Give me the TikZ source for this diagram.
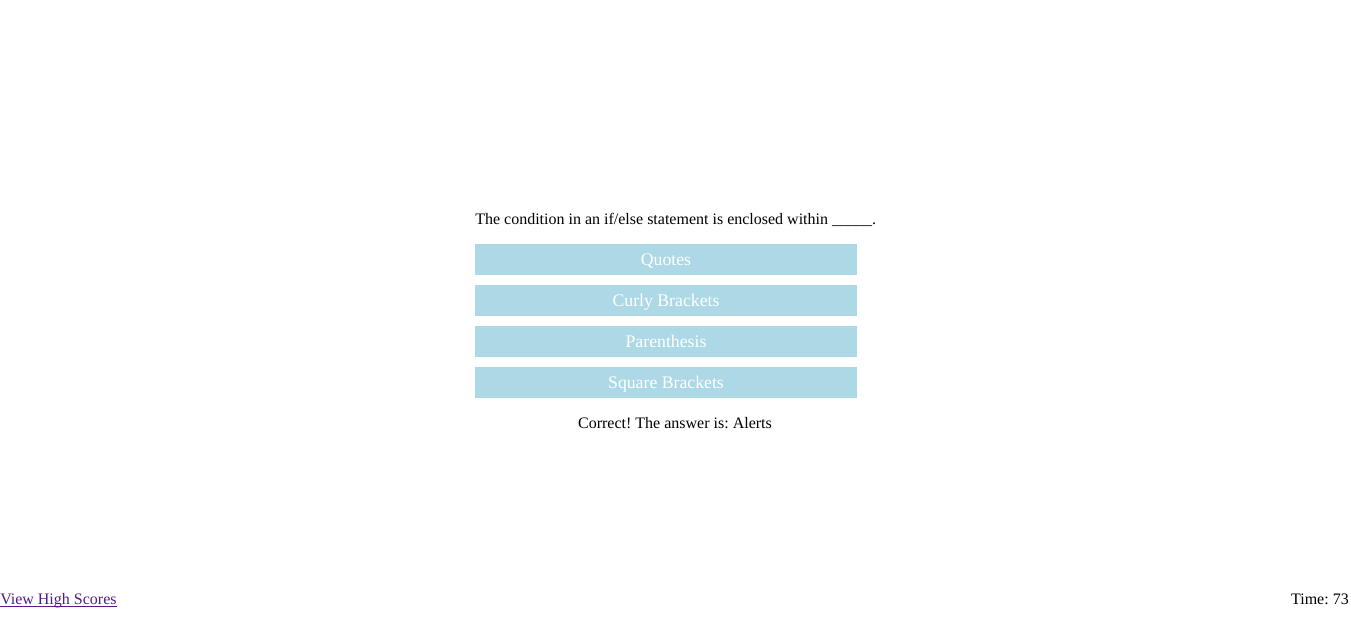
\documentclass[tikz,border=0pt]{standalone}
\usepackage{fontspec}
\setmainfont{Liberation Serif}
\frenchspacing
\definecolor{btnblue}{HTML}{ADD8E6}
\definecolor{linkpurple}{HTML}{551A8B}
\begin{document}
\begin{tikzpicture}[x=0.75pt,y=-0.75pt,
  btn/.style={fill=btnblue,draw=none,minimum width=382*0.75pt,minimum height=31*0.75pt,inner sep=0pt,
    text=white,font=\fontsize{13.3}{15}\selectfont,text height=11pt,text depth=2.6pt},
  txt/.style={inner sep=0pt,font=\fontsize{12}{14}\selectfont}]
\useasboundingbox (0,0) rectangle (1351,623);
\fill[white] (0,0) rectangle (1351,623);
\node[txt,anchor=base west] (q) at (475,225) {The condition in an if/else statement is enclosed within \_\_\_\_\_.};
\node[btn] (b1) at (666,259.5) {Quotes};
\node[btn] (b2) at (666,300.5) {Curly Brackets};
\node[btn] (b3) at (666,341.5) {Parenthesis};
\node[btn] (b4) at (666,382.5) {Square Brackets};
\node[txt,anchor=base] (res) at (675,428) {Correct! The answer is: Alerts};
\node[txt,anchor=base west,text=linkpurple] (hs) at (0,604) {View High Scores};
\draw[linkpurple,line width=0.75pt] ([yshift=-1.6pt]hs.base west) -- ([yshift=-1.6pt]hs.base east);
\node[txt,anchor=base east] (time) at (1349,604) {Time: 73};
\end{tikzpicture}
\end{document}
